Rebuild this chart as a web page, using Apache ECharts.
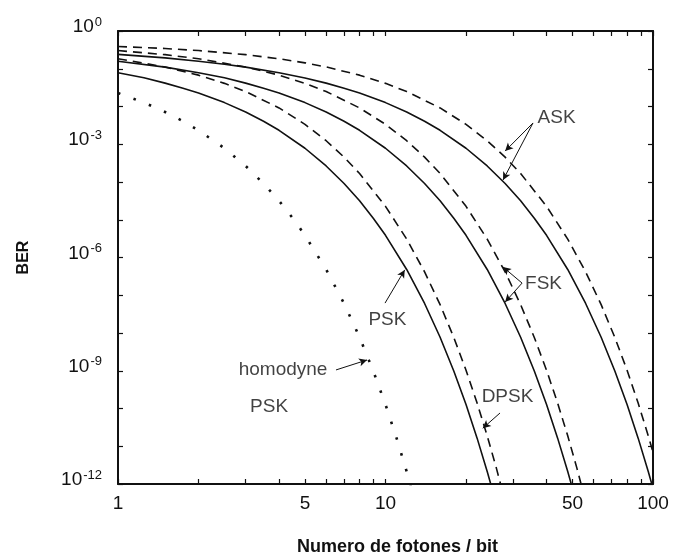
<!DOCTYPE html>
<html>
<head>
<meta charset="utf-8">
<script src="https://cdn.jsdelivr.net/npm/echarts@6/dist/echarts.min.js"></script>
<style>html,body{margin:0;padding:0;background:#fff;}#c{width:681px;height:556px;}</style>
</head>
<body>
<div id="c"></div>
<script>
// ---- data (photons per bit, BER) ----
const homodynePskN   = [1, 1.25, 1.5, 1.75, 2, 2.5, 3, 3.5, 4, 4.5, 5, 6, 7, 8, 9, 10, 11, 12, 12.5];
const homodynePskBer = [0.02275, 0.01267, 0.00715, 0.00407, 0.00234, 7.83e-4, 2.66e-4, 9.1e-5, 3.17e-5, 1.1e-5, 3.87e-6, 4.82e-7, 6.06e-8, 7.71e-9, 9.86e-10, 1.27e-10, 1.64e-11, 2.13e-12, 7.69e-13];

const pskN   = [1, 1.25, 1.5, 1.75, 2, 2.5, 3, 3.5, 4, 5, 6, 7, 8, 9, 10, 12, 14, 16, 18, 20, 22, 24, 25];
const pskBer = [0.0786, 0.0575, 0.0416, 0.0304, 0.02275, 0.01267, 0.00715, 0.00407, 0.00234, 7.83e-4, 2.66e-4, 9.1e-5, 3.17e-5, 1.1e-5, 3.87e-6, 4.82e-7, 6.06e-8, 7.71e-9, 9.86e-10, 1.27e-10, 1.64e-11, 2.13e-12, 7.69e-13];

const dpskN   = [1, 1.5, 2, 2.5, 3, 4, 5, 6, 7, 8, 10, 12, 14, 16, 18, 20, 22, 24, 26, 28];
const dpskBer = [0.1839, 0.1116, 0.0677, 0.041, 0.0249, 0.00916, 0.00337, 0.00124, 4.56e-4, 1.68e-4, 2.27e-5, 3.07e-6, 4.16e-7, 5.63e-8, 7.62e-9, 1.03e-9, 1.39e-10, 1.89e-11, 2.55e-12, 3.46e-13];

const fskSyncN   = [1, 1.5, 2, 2.5, 3, 3.5, 4, 5, 6, 7, 8, 10, 12, 14, 16, 18, 20, 24, 28, 32, 36, 40, 44, 48, 50];
const fskSyncBer = [0.1587, 0.1103, 0.0786, 0.0575, 0.0416, 0.0304, 0.02275, 0.01267, 0.00715, 0.00407, 0.00234, 7.83e-4, 2.66e-4, 9.1e-5, 3.17e-5, 1.1e-5, 3.87e-6, 4.82e-7, 6.06e-8, 7.71e-9, 9.86e-10, 1.27e-10, 1.64e-11, 2.13e-12, 7.69e-13];

const fskAsyncN   = [1, 1.5, 2, 3, 4, 5, 6, 8, 10, 12, 14, 16, 20, 24, 28, 32, 36, 40, 44, 48, 52, 56];
const fskAsyncBer = [0.3033, 0.2362, 0.1839, 0.1116, 0.0677, 0.041, 0.0249, 0.00916, 0.00337, 0.00124, 4.56e-4, 1.68e-4, 2.27e-5, 3.07e-6, 4.16e-7, 5.63e-8, 7.62e-9, 1.03e-9, 1.39e-10, 1.89e-11, 2.55e-12, 3.46e-13];

const askSyncN   = [1, 1.5, 2, 2.5, 3, 4, 5, 6, 7, 8, 10, 12, 14, 16, 20, 24, 28, 32, 36, 40, 48, 56, 64, 72, 80, 88, 96, 100];
const askSyncBer = [0.2398, 0.1937, 0.1587, 0.1318, 0.1103, 0.0786, 0.0569, 0.0416, 0.0304, 0.02275, 0.01267, 0.00715, 0.00407, 0.00234, 7.83e-4, 2.66e-4, 9.1e-5, 3.17e-5, 1.1e-5, 3.87e-6, 4.82e-7, 6.06e-8, 7.71e-9, 9.86e-10, 1.27e-10, 1.64e-11, 2.13e-12, 7.69e-13];

const askAsyncN   = [1, 1.5, 2, 3, 4, 5, 6, 8, 10, 12, 16, 20, 24, 28, 32, 40, 48, 56, 64, 72, 80, 88, 96, 100];
const askAsyncBer = [0.3894, 0.3436, 0.3033, 0.2362, 0.1839, 0.1433, 0.1116, 0.0677, 0.041, 0.0249, 0.00916, 0.00337, 0.00124, 4.56e-4, 1.68e-4, 2.27e-5, 3.07e-6, 4.16e-7, 5.63e-8, 7.62e-9, 1.03e-9, 1.39e-10, 1.89e-11, 6.94e-12];

// ---- ticks / labels ----
const xTickValues  = [1, 2, 3, 4, 5, 6, 7, 8, 9, 10, 20, 30, 40, 50, 60, 70, 80, 90, 100];
const xLabelValues = [1, 5, 10, 50, 100];
const yTickValues  = [1, 1e-1, 1e-2, 1e-3, 1e-4, 1e-5, 1e-6, 1e-7, 1e-8, 1e-9, 1e-10, 1e-11, 1e-12];
const yLabelValues = [1, 1e-3, 1e-6, 1e-9, 1e-12];

// ---- annotations (data coordinates, text centres) ----
const noteTexts = ['ASK', 'FSK', 'PSK', 'homodyne', 'PSK', 'DPSK'];
const noteN     = [43.6, 38.97, 10.17, 4.14, 3.67, 28.58];
const noteBer   = [4.96e-3, 2.0e-7, 2.2e-8, 1.05e-9, 1.1e-10, 2.0e-10];
const arrowFromN   = [35.6, 35.6, 32.4, 32.4, 9.96, 6.53, 26.8];
const arrowFromBer = [3.66e-3, 3.66e-3, 2.1e-7, 2.1e-7, 6.2e-8, 1.05e-9, 7.6e-11];
const arrowToN     = [28.0, 27.5, 27.5, 28.0, 11.8, 8.53, 23.1];
const arrowToBer   = [6.6e-4, 1.13e-4, 5.6e-7, 6.6e-8, 4.7e-7, 1.93e-9, 3.0e-11];

const zip = (a, b) => a.map((v, i) => [v, b[i]]);
const FONT = 'Liberation Sans';
const INK = '#111';

function lineSeries(name, xs, ys, type) {
  let lineType = 'solid', width = 1.6;
  if (type === 'dashed') lineType = [9, 6];
  if (type === 'dotted') { lineType = [2.5, 14]; width = 2.6; }
  return {
    name, type: 'line', data: zip(xs, ys), symbol: 'none', smooth: false,
    clip: true, silent: true,
    lineStyle: { color: INK, width, type: lineType, cap: 'butt', join: 'round' }
  };
}

const axisCommon = {
  axisLine: { show: true, onZero: false, lineStyle: { color: INK, width: 2 } },
  splitLine: { show: false },
  minorTick: { show: false }
};

const chart = echarts.init(document.getElementById('c'), null, { renderer: 'canvas' });
chart.setOption({
  animation: false,
  backgroundColor: '#fff',
  grid: { left: 118, right: 28, top: 31, bottom: 72, containLabel: false, outerBoundsMode: 'none' },
  xAxis: [
    Object.assign({}, axisCommon, {
      type: 'log', logBase: 10, min: 1, max: 100, position: 'bottom',
      name: 'Numero de fotones / bit', nameLocation: 'middle', nameGap: 54,
      nameTextStyle: { fontFamily: FONT, fontWeight: 'bold', fontSize: 18, color: INK, padding: [0, 0, 0, 24] },
      axisTick: { show: true, inside: true, length: 5, lineStyle: { color: INK, width: 1.2 }, customValues: xTickValues },
      axisLabel: { show: true, margin: 10, fontFamily: FONT, fontSize: 19, color: INK, customValues: xLabelValues,
        formatter: v => String(Math.round(v)) }
    }),
    Object.assign({}, axisCommon, {
      type: 'log', logBase: 10, min: 1, max: 100, position: 'top',
      axisTick: { show: true, inside: true, length: 5, lineStyle: { color: INK, width: 1.2 }, customValues: xTickValues },
      axisLabel: { show: false }
    })
  ],
  yAxis: [
    Object.assign({}, axisCommon, {
      type: 'log', logBase: 10, min: 1e-12, max: 1, position: 'left',
      name: 'BER', nameLocation: 'middle', nameGap: 86, nameRotate: 90,
      nameTextStyle: { fontFamily: FONT, fontWeight: 'bold', fontSize: 16, color: INK },
      axisTick: { show: true, inside: true, length: 5, lineStyle: { color: INK, width: 1.2 }, customValues: yTickValues },
      axisLabel: { show: true, margin: 16, fontFamily: FONT, fontSize: 19, color: INK, customValues: yLabelValues,
        padding: [0, 0, 8, 0],
        formatter: v => {
          const e = Math.round(Math.log10(v));
          return '{b|10}{s|' + (e === 0 ? '0' : '-' + Math.abs(e)) + '}';
        },
        rich: {
          b: { fontFamily: FONT, fontSize: 19, color: INK },
          s: { fontFamily: FONT, fontSize: 13, color: INK, padding: [0, 0, 10, 1] }
        } }
    }),
    Object.assign({}, axisCommon, {
      type: 'log', logBase: 10, min: 1e-12, max: 1, position: 'right',
      axisTick: { show: true, inside: true, length: 5, lineStyle: { color: INK, width: 1.2 }, customValues: yTickValues },
      axisLabel: { show: false }
    })
  ],
  series: [
    lineSeries('homodyne PSK', homodynePskN, homodynePskBer, 'dotted'),
    lineSeries('PSK', pskN, pskBer, 'solid'),
    lineSeries('DPSK', dpskN, dpskBer, 'dashed'),
    lineSeries('FSK sync', fskSyncN, fskSyncBer, 'solid'),
    lineSeries('FSK async', fskAsyncN, fskAsyncBer, 'dashed'),
    lineSeries('ASK sync', askSyncN, askSyncBer, 'solid'),
    lineSeries('ASK async', askAsyncN, askAsyncBer, 'dashed'),
    {
      name: 'notes', type: 'scatter', symbolSize: 0, silent: true,
      data: noteTexts.map((t, i) => ({ value: [noteN[i], noteBer[i]], name: t })),
      label: { show: true, position: 'inside', formatter: p => p.name,
        fontFamily: FONT, fontSize: 19, color: INK },
      markLine: {
        silent: true, symbol: ['none', 'arrow'], symbolSize: [6, 8],
        label: { show: false },
        lineStyle: { color: INK, width: 1, type: 'solid' },
        data: arrowFromN.map((x, i) => [
          { coord: [x, arrowFromBer[i]] },
          { coord: [arrowToN[i], arrowToBer[i]] }
        ])
      }
    }
  ]
});
</script>
</body>
</html>
